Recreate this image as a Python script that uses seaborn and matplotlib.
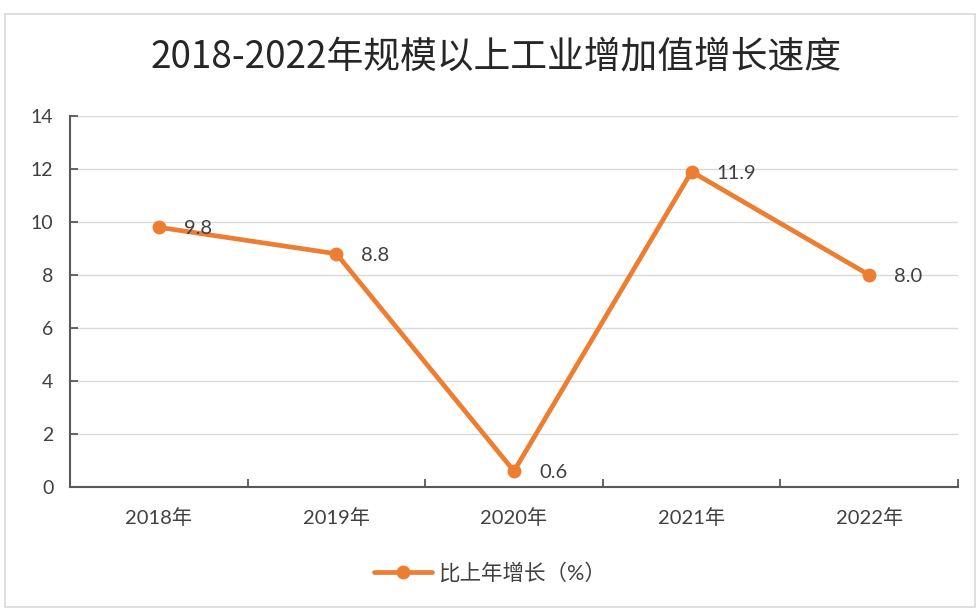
import matplotlib
matplotlib.use("Agg")
import matplotlib.pyplot as plt
import seaborn as sns
import pandas as pd
from matplotlib.patches import Rectangle

years = ["2018年", "2019年", "2020年", "2021年", "2022年"]
growth = [9.8, 8.8, 0.6, 11.9, 8.0]
series_name = "比上年增长（%）"
title = "2018-2022年规模以上工业增加值增长速度"

sns.set_theme(style="white")
plt.rcParams['font.family'] = ['Lato', 'Noto Sans CJK SC', 'DejaVu Sans']

orange = "#ED7D31"
df = pd.DataFrame({"year": years, "growth": growth})

fig = plt.figure(figsize=(9.76, 6.08), dpi=100)
ax = fig.add_axes([70 / 976, 1 - 487 / 608, 888 / 976, 371 / 608])

x = list(range(len(years)))
sns.lineplot(x=x, y=df["growth"], ax=ax, color=orange, linewidth=3.4,
             marker="o", markersize=10, markeredgewidth=0, label=series_name)

# 数据标签
for xi, v in zip(x, growth):
    ax.annotate(f"{v:.1f}", (xi, v), xytext=(18, -1), textcoords="offset points",
                ha="left", va="center", fontsize=14.5, color="#404040")

ax.set_xlim(-0.5, len(years) - 0.5)
ax.set_ylim(0, 14)
ax.set_yticks(range(0, 15, 2))
ax.set_xticks(x)
ax.set_xticklabels(years)
ax.set_xticks([i - 0.5 for i in range(len(years) + 1)], minor=True)
ax.set_xlabel("")
ax.set_ylabel("")

ax.yaxis.grid(True, color="#D9D9D9", linewidth=1)
ax.set_axisbelow(True)
for s in ["top", "right"]:
    ax.spines[s].set_visible(False)
for s in ["left", "bottom"]:
    ax.spines[s].set_color("#595959")
    ax.spines[s].set_linewidth(1.5)

ax.tick_params(axis="y", direction="in", length=6, width=1.3, color="#595959",
               labelsize=14, labelcolor="#404040", pad=12, left=True)
ax.tick_params(axis="x", which="major", length=0, labelsize=14.5,
               labelcolor="#404040", pad=15)
ax.tick_params(axis="x", which="minor", direction="in", length=6, width=1.3,
               color="#595959", bottom=True)

fig.text(0.508, 1 - 58 / 608, title, ha="center", va="center", fontsize=26.5,
         color="#262626", family=['Noto Sans CJK SC', 'DejaVu Sans'])

leg = ax.legend(loc="center", bbox_to_anchor=(0.473, -0.233), frameon=False,
                fontsize=15.5, handlelength=2.7, handletextpad=0.3)
for t in leg.get_texts():
    t.set_color("#404040")

fig.patches.append(Rectangle((5 / 976, 0.002), 970 / 976, 1 - 15 / 608,
                             transform=fig.transFigure, fill=False,
                             edgecolor="#D9D9D9", linewidth=1.2))

fig.savefig("out.png", dpi=100)
